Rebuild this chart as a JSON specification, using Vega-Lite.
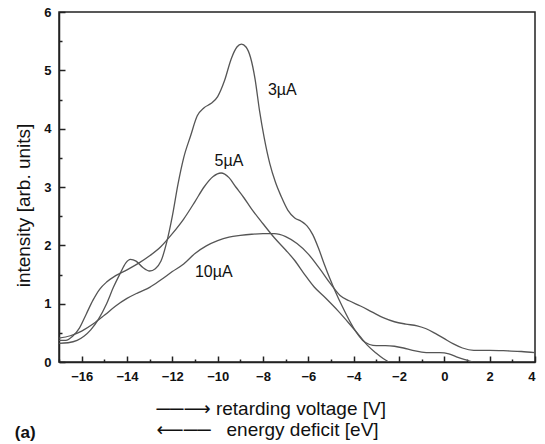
{
  "$schema": "https://vega.github.io/schema/vega-lite/v6.json",
  "autosize": "none",
  "width": 476,
  "height": 350,
  "padding": {"left": 59, "top": 12, "right": 10, "bottom": 82},
  "config": {
    "view": {"stroke": "#222", "strokeWidth": 1.5},
    "font": "Liberation Sans",
    "axis": {"domainColor": "#222", "domainWidth": 1.5, "tickColor": "#222", "tickWidth": 1.5, "labelColor": "#111", "titleColor": "#111", "grid": false, "labelFont": "Liberation Sans", "titleFont": "Liberation Sans, DejaVu Sans", "titleFontWeight": "normal"}
  },
  "title": {"text": "(a)", "orient": "bottom", "anchor": "start", "frame": "bounds", "fontSize": 17, "fontWeight": "bold", "color": "#111", "offset": 0, "dy": -14},
  "datasets": {
    "curves": [
      {"series": "3µA", "x": -17, "y": 0.32}, {"series": "3µA", "x": -16.6, "y": 0.33}, {"series": "3µA", "x": -16.2, "y": 0.37}, {"series": "3µA", "x": -15.9, "y": 0.44}, {"series": "3µA", "x": -15.6, "y": 0.55}, {"series": "3µA", "x": -15.25, "y": 0.74}, {"series": "3µA", "x": -14.9, "y": 1.0}, {"series": "3µA", "x": -14.6, "y": 1.28}, {"series": "3µA", "x": -14.3, "y": 1.52}, {"series": "3µA", "x": -14.05, "y": 1.7}, {"series": "3µA", "x": -13.85, "y": 1.76}, {"series": "3µA", "x": -13.6, "y": 1.73}, {"series": "3µA", "x": -13.3, "y": 1.62}, {"series": "3µA", "x": -13.0, "y": 1.56}, {"series": "3µA", "x": -12.75, "y": 1.6}, {"series": "3µA", "x": -12.5, "y": 1.73}, {"series": "3µA", "x": -12.25, "y": 2.05}, {"series": "3µA", "x": -12.0, "y": 2.5}, {"series": "3µA", "x": -11.75, "y": 3.05}, {"series": "3µA", "x": -11.5, "y": 3.5}, {"series": "3µA", "x": -11.2, "y": 3.87}, {"series": "3µA", "x": -10.9, "y": 4.22}, {"series": "3µA", "x": -10.6, "y": 4.36}, {"series": "3µA", "x": -10.3, "y": 4.43}, {"series": "3µA", "x": -10.0, "y": 4.55}, {"series": "3µA", "x": -9.7, "y": 4.82}, {"series": "3µA", "x": -9.4, "y": 5.2}, {"series": "3µA", "x": -9.15, "y": 5.4}, {"series": "3µA", "x": -8.95, "y": 5.45}, {"series": "3µA", "x": -8.75, "y": 5.4}, {"series": "3µA", "x": -8.55, "y": 5.22}, {"series": "3µA", "x": -8.35, "y": 4.85}, {"series": "3µA", "x": -8.15, "y": 4.3}, {"series": "3µA", "x": -7.95, "y": 3.85}, {"series": "3µA", "x": -7.7, "y": 3.4}, {"series": "3µA", "x": -7.45, "y": 3.08}, {"series": "3µA", "x": -7.2, "y": 2.84}, {"series": "3µA", "x": -6.9, "y": 2.6}, {"series": "3µA", "x": -6.6, "y": 2.47}, {"series": "3µA", "x": -6.3, "y": 2.41}, {"series": "3µA", "x": -6.05, "y": 2.33}, {"series": "3µA", "x": -5.8, "y": 2.18}, {"series": "3µA", "x": -5.55, "y": 1.95}, {"series": "3µA", "x": -5.3, "y": 1.68}, {"series": "3µA", "x": -5.05, "y": 1.43}, {"series": "3µA", "x": -4.8, "y": 1.2}, {"series": "3µA", "x": -4.5, "y": 0.95}, {"series": "3µA", "x": -4.2, "y": 0.72}, {"series": "3µA", "x": -3.9, "y": 0.52}, {"series": "3µA", "x": -3.6, "y": 0.37}, {"series": "3µA", "x": -3.3, "y": 0.3}, {"series": "3µA", "x": -3.0, "y": 0.28}, {"series": "3µA", "x": -2.6, "y": 0.28}, {"series": "3µA", "x": -2.2, "y": 0.27}, {"series": "3µA", "x": -1.8, "y": 0.24}, {"series": "3µA", "x": -1.4, "y": 0.2}, {"series": "3µA", "x": -1.0, "y": 0.17}, {"series": "3µA", "x": -0.6, "y": 0.16}, {"series": "3µA", "x": -0.2, "y": 0.16}, {"series": "3µA", "x": 0.2, "y": 0.14}, {"series": "3µA", "x": 0.6, "y": 0.08}, {"series": "3µA", "x": 1.0, "y": 0.03}, {"series": "3µA", "x": 1.25, "y": 0},
      {"series": "5µA", "x": -17, "y": 0.37}, {"series": "5µA", "x": -16.7, "y": 0.37}, {"series": "5µA", "x": -16.4, "y": 0.44}, {"series": "5µA", "x": -16.1, "y": 0.58}, {"series": "5µA", "x": -15.8, "y": 0.82}, {"series": "5µA", "x": -15.5, "y": 1.06}, {"series": "5µA", "x": -15.2, "y": 1.25}, {"series": "5µA", "x": -14.9, "y": 1.37}, {"series": "5µA", "x": -14.5, "y": 1.48}, {"series": "5µA", "x": -14.0, "y": 1.58}, {"series": "5µA", "x": -13.5, "y": 1.69}, {"series": "5µA", "x": -13.0, "y": 1.82}, {"series": "5µA", "x": -12.5, "y": 1.98}, {"series": "5µA", "x": -12.0, "y": 2.2}, {"series": "5µA", "x": -11.5, "y": 2.45}, {"series": "5µA", "x": -11.0, "y": 2.75}, {"series": "5µA", "x": -10.6, "y": 3.0}, {"series": "5µA", "x": -10.2, "y": 3.18}, {"series": "5µA", "x": -9.85, "y": 3.24}, {"series": "5µA", "x": -9.5, "y": 3.16}, {"series": "5µA", "x": -9.2, "y": 3.0}, {"series": "5µA", "x": -8.85, "y": 2.82}, {"series": "5µA", "x": -8.5, "y": 2.62}, {"series": "5µA", "x": -8.1, "y": 2.42}, {"series": "5µA", "x": -7.5, "y": 2.13}, {"series": "5µA", "x": -7.0, "y": 1.92}, {"series": "5µA", "x": -6.6, "y": 1.74}, {"series": "5µA", "x": -6.2, "y": 1.52}, {"series": "5µA", "x": -5.75, "y": 1.29}, {"series": "5µA", "x": -5.25, "y": 1.1}, {"series": "5µA", "x": -4.7, "y": 0.88}, {"series": "5µA", "x": -4.2, "y": 0.66}, {"series": "5µA", "x": -3.7, "y": 0.43}, {"series": "5µA", "x": -3.4, "y": 0.29}, {"series": "5µA", "x": -3.0, "y": 0.15}, {"series": "5µA", "x": -2.7, "y": 0.06}, {"series": "5µA", "x": -2.45, "y": 0},
      {"series": "10µA", "x": -17, "y": 0.41}, {"series": "10µA", "x": -16.5, "y": 0.45}, {"series": "10µA", "x": -16.0, "y": 0.53}, {"series": "10µA", "x": -15.5, "y": 0.65}, {"series": "10µA", "x": -15.0, "y": 0.8}, {"series": "10µA", "x": -14.5, "y": 0.96}, {"series": "10µA", "x": -14.0, "y": 1.09}, {"series": "10µA", "x": -13.5, "y": 1.19}, {"series": "10µA", "x": -13.0, "y": 1.28}, {"series": "10µA", "x": -12.5, "y": 1.41}, {"series": "10µA", "x": -12.0, "y": 1.55}, {"series": "10µA", "x": -11.5, "y": 1.68}, {"series": "10µA", "x": -11.0, "y": 1.86}, {"series": "10µA", "x": -10.5, "y": 1.99}, {"series": "10µA", "x": -10.0, "y": 2.08}, {"series": "10µA", "x": -9.5, "y": 2.14}, {"series": "10µA", "x": -9.0, "y": 2.17}, {"series": "10µA", "x": -8.5, "y": 2.19}, {"series": "10µA", "x": -8.0, "y": 2.2}, {"series": "10µA", "x": -7.5, "y": 2.2}, {"series": "10µA", "x": -7.0, "y": 2.15}, {"series": "10µA", "x": -6.5, "y": 2.03}, {"series": "10µA", "x": -6.0, "y": 1.85}, {"series": "10µA", "x": -5.5, "y": 1.6}, {"series": "10µA", "x": -5.0, "y": 1.33}, {"series": "10µA", "x": -4.6, "y": 1.14}, {"series": "10µA", "x": -4.2, "y": 1.05}, {"series": "10µA", "x": -3.7, "y": 0.96}, {"series": "10µA", "x": -3.2, "y": 0.86}, {"series": "10µA", "x": -2.7, "y": 0.76}, {"series": "10µA", "x": -2.2, "y": 0.69}, {"series": "10µA", "x": -1.7, "y": 0.65}, {"series": "10µA", "x": -1.2, "y": 0.62}, {"series": "10µA", "x": -0.8, "y": 0.57}, {"series": "10µA", "x": -0.4, "y": 0.49}, {"series": "10µA", "x": 0, "y": 0.4}, {"series": "10µA", "x": 0.4, "y": 0.31}, {"series": "10µA", "x": 0.8, "y": 0.24}, {"series": "10µA", "x": 1.3, "y": 0.2}, {"series": "10µA", "x": 2.0, "y": 0.2}, {"series": "10µA", "x": 2.8, "y": 0.19}, {"series": "10µA", "x": 3.4, "y": 0.18}, {"series": "10µA", "x": 4.0, "y": 0.16}
    ],
    "labels": [
      {"label": "3µA", "x": -7.15, "y": 4.67},
      {"label": "5µA", "x": -9.5, "y": 3.44},
      {"label": "10µA", "x": -10.17, "y": 1.55}
    ]
  },
  "layer": [
    {
      "data": {"name": "curves"},
      "mark": {"type": "line", "interpolate": "monotone", "color": "#555", "strokeWidth": 1.3, "clip": true},
      "encoding": {
        "x": {"field": "x", "type": "quantitative", "scale": {"domain": [-17, 4], "nice": false, "zero": false},
          "axis": {"orient": "bottom", "values": [-16, -14, -12, -10, -8, -6, -4, -2, 0, 2, 4], "tickSize": -6, "labelPadding": 14, "labelFontSize": 13, "labelFontWeight": "bold",
            "title": ["──⟶\u00a0retarding voltage [V]", "⟵──\u00a0\u00a0\u00a0energy deficit [eV]"], "titleFontSize": 19, "titleAlign": "left", "titleAnchor": "start", "titleX": 97, "titleY": 37, "titleBaseline": "top", "titleLineHeight": 21}},
        "y": {"field": "y", "type": "quantitative", "scale": {"domain": [0, 6], "nice": false},
          "axis": {"orient": "left", "values": [0, 1, 2, 3, 4, 5, 6], "tickSize": -6, "labelPadding": 14, "labelFontSize": 13, "labelFontWeight": "bold",
            "title": "intensity [arb. units]", "titleFontSize": 19, "titlePadding": 10, "titleY": 193, "titleAlign": "center"}},
        "detail": {"field": "series"}
      }
    },
    {
      "data": {"name": "labels"},
      "mark": {"type": "text", "fontSize": 16, "color": "#111", "font": "Liberation Sans"},
      "encoding": {
        "x": {"field": "x", "type": "quantitative",
          "axis": {"orient": "bottom", "values": [-17, -15, -13, -11, -9, -7, -5, -3, -1, 1, 3], "tickSize": -3, "labels": false, "domain": false, "title": null}},
        "y": {"field": "y", "type": "quantitative",
          "axis": {"orient": "left", "values": [0.5, 1.5, 2.5, 3.5, 4.5, 5.5], "tickSize": -3, "labels": false, "domain": false, "title": null}},
        "text": {"field": "label"}
      }
    }
  ],
  "resolve": {"axis": {"x": "independent", "y": "independent"}}
}
